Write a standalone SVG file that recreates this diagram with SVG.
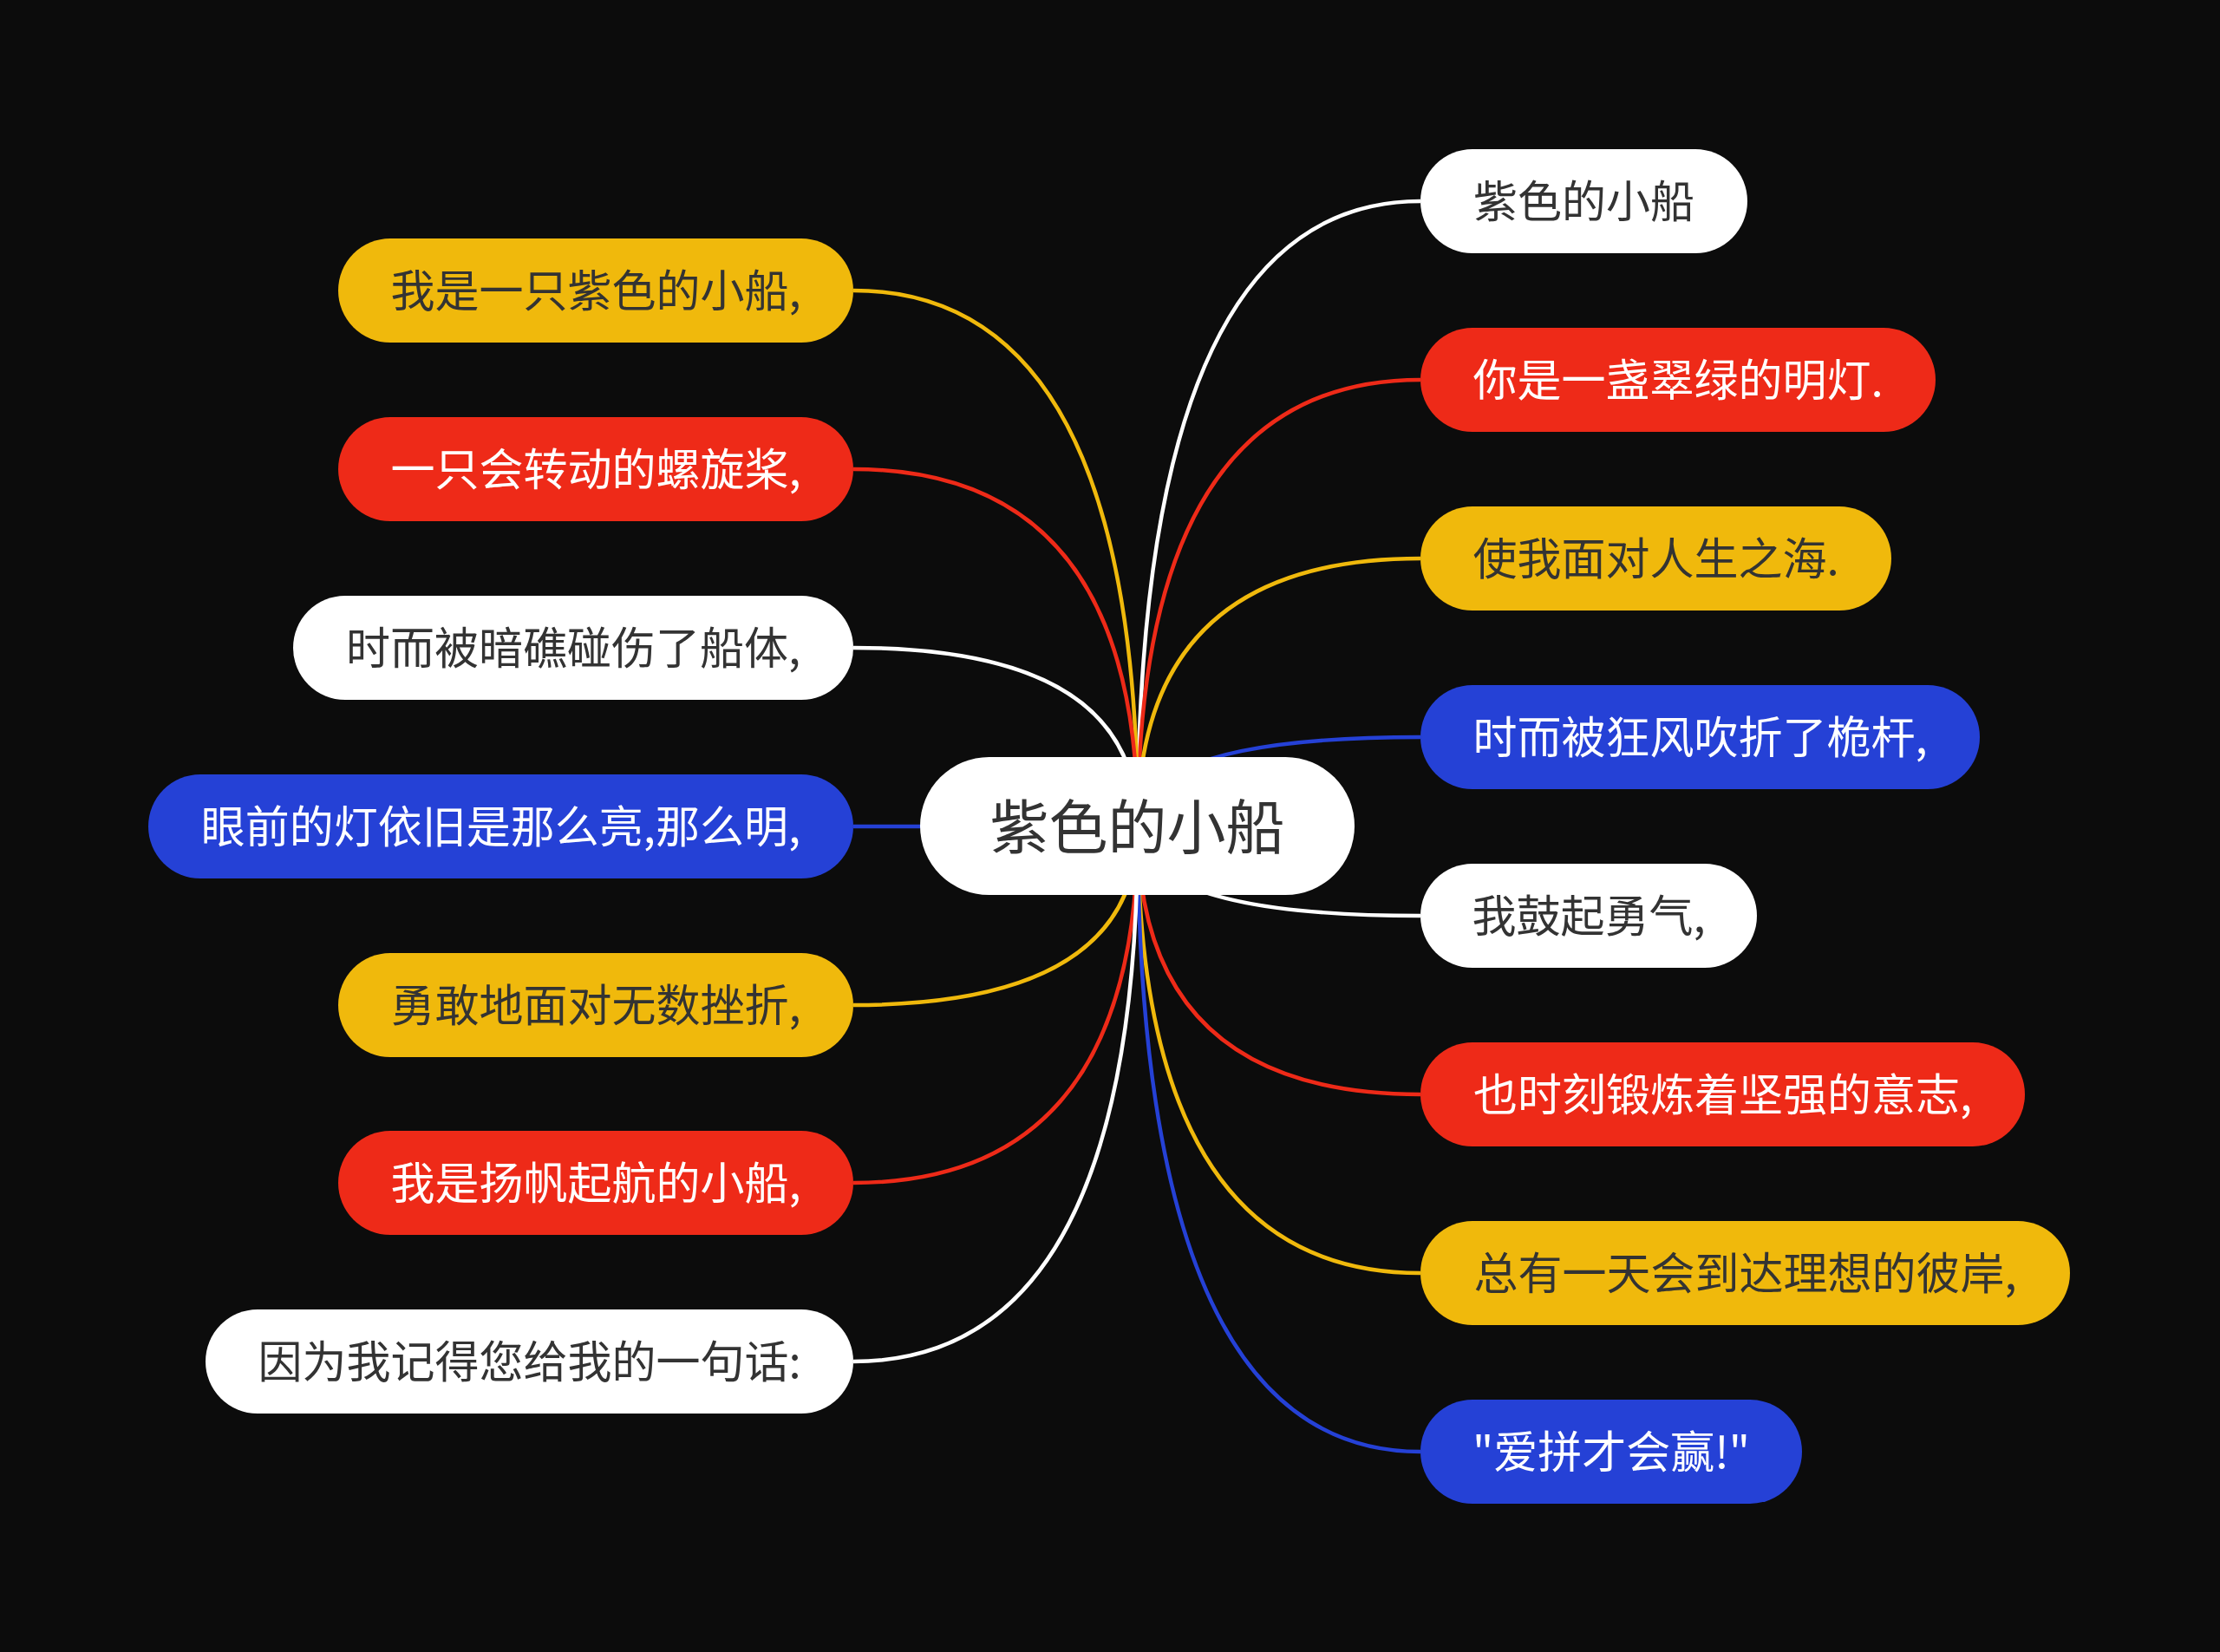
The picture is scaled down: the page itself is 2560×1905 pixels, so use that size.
<svg xmlns="http://www.w3.org/2000/svg" width="2560" height="1905" viewBox="0 0 2560 1905">
<style>
text{font-family:"Noto Sans CJK SC","Noto Sans",sans-serif;font-size:51px;text-anchor:middle;dominant-baseline:central}
.c{fill:none;stroke-width:4.5}
.sw{stroke:#ffffff}.sr{stroke:#ee2a18}.sy{stroke:#f0b90c}.sb{stroke:#2541d6}
.fw{fill:#ffffff}.fr{fill:#ee2a18}.fy{fill:#f0b90c}.fb{fill:#2541d6}
.td{fill:#333333}.tl{fill:#ffffff}
</style>
<rect x="0" y="0" width="2560" height="1905" fill="#0c0c0c"/>
<g id="connectors">
<path class="c sw" d="M1312,953 Q1312,232 1638,232"/>
<path class="c sr" d="M1312,953 Q1312,438 1638,438"/>
<path class="c sy" d="M1312,953 Q1312,644 1638,644"/>
<path class="c sb" d="M1312,953 Q1312,850 1638,850"/>
<path class="c sw" d="M1312,953 Q1312,1056 1638,1056"/>
<path class="c sr" d="M1312,953 Q1312,1262 1638,1262"/>
<path class="c sy" d="M1312,953 Q1312,1468 1638,1468"/>
<path class="c sb" d="M1312,953 Q1312,1674 1638,1674"/>
<path class="c sy" d="M1312,953 Q1312,335 984,335"/>
<path class="c sr" d="M1312,953 Q1312,541 984,541"/>
<path class="c sw" d="M1312,953 Q1312,747 984,747"/>
<path class="c sb" d="M1312,953 L984,953"/>
<path class="c sy" d="M1312,953 Q1312,1159 984,1159"/>
<path class="c sr" d="M1312,953 Q1312,1364 984,1364"/>
<path class="c sw" d="M1312,953 Q1312,1570 984,1570"/>
</g>
<g id="center">
<rect class="fw" x="1061" y="873" width="501" height="159" rx="79.5"/>
<text class="td" x="1311.5" y="949" style="font-size:68px">紫色的小船</text>
</g>
<g id="r1"><rect class="fw" x="1638" y="172" width="377" height="120" rx="60"/><text class="td" x="1826.5" y="229">紫色的小船</text></g>
<g id="r2"><rect class="fr" x="1638" y="378" width="594" height="120" rx="60"/><text class="tl" x="1935" y="435">你是一盏翠绿的明灯.</text></g>
<g id="r3"><rect class="fy" x="1638" y="584" width="543" height="120" rx="60"/><text class="td" x="1909.5" y="641">使我面对人生之海.</text></g>
<g id="r4"><rect class="fb" x="1638" y="790" width="645" height="120" rx="60"/><text class="tl" x="1960.5" y="847">时而被狂风吹折了桅杆,</text></g>
<g id="r5"><rect class="fw" x="1638" y="996" width="388" height="120" rx="60"/><text class="td" x="1832" y="1053">我鼓起勇气,</text></g>
<g id="r6"><rect class="fr" x="1638" y="1202" width="697" height="120" rx="60"/><text class="tl" x="1986.5" y="1259">也时刻锻炼着坚强的意志,</text></g>
<g id="r7"><rect class="fy" x="1638" y="1408" width="749" height="120" rx="60"/><text class="td" x="2012.5" y="1465">总有一天会到达理想的彼岸,</text></g>
<g id="r8"><rect class="fb" x="1638" y="1614" width="440" height="120" rx="60"/><text class="tl" x="1858" y="1671">"爱拼才会赢!"</text></g>
<g id="l1"><rect class="fy" x="390" y="275" width="594" height="120" rx="60"/><text class="td" x="687" y="332">我是一只紫色的小船,</text></g>
<g id="l2"><rect class="fr" x="390" y="481" width="594" height="120" rx="60"/><text class="tl" x="687" y="538">一只会转动的螺旋桨,</text></g>
<g id="l3"><rect class="fw" x="338" y="687" width="646" height="120" rx="60"/><text class="td" x="661" y="744">时而被暗礁碰伤了船体,</text></g>
<g id="l4"><rect class="fb" x="171" y="893" width="813" height="120" rx="60"/><text class="tl" x="577.5" y="950">眼前的灯依旧是那么亮,那么明,</text></g>
<g id="l5"><rect class="fy" x="390" y="1099" width="594" height="120" rx="60"/><text class="td" x="687" y="1156">勇敢地面对无数挫折,</text></g>
<g id="l6"><rect class="fr" x="390" y="1304" width="594" height="120" rx="60"/><text class="tl" x="687" y="1361">我是扬帆起航的小船,</text></g>
<g id="l7"><rect class="fw" x="237" y="1510" width="747" height="120" rx="60"/><text class="td" x="610.5" y="1567">因为我记得您给我的一句话:</text></g>
</svg>
